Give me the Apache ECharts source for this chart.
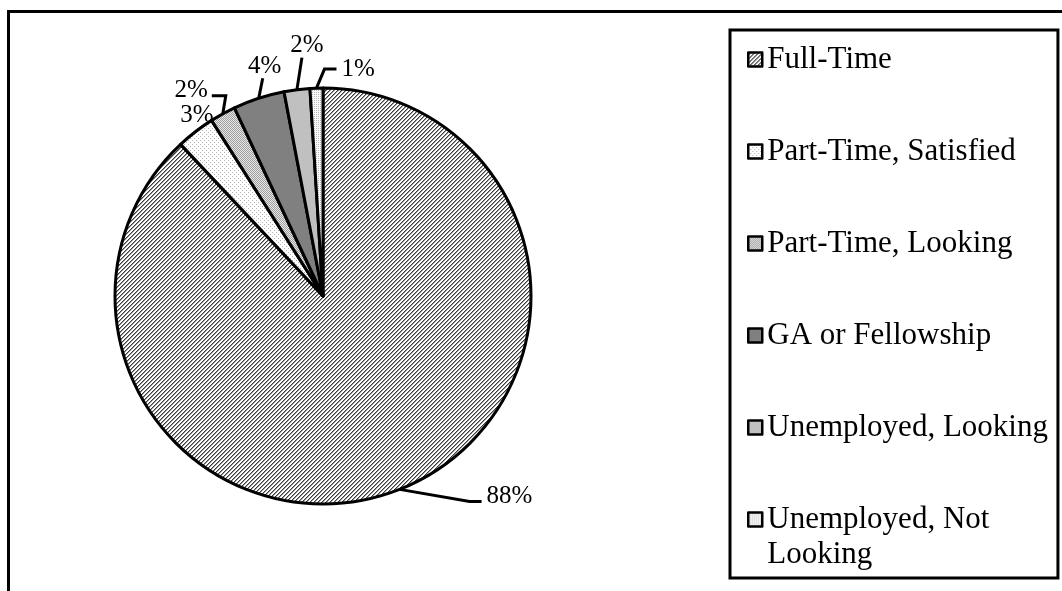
<!DOCTYPE html>
<html>
<head>
<meta charset="utf-8">
<script src="https://cdn.jsdelivr.net/npm/echarts@6/dist/echarts.min.js"></script>
<style>html,body{margin:0;padding:0;background:#fff}#c{width:1062px;height:591px}</style>
</head>
<body>
<div id="c"></div>
<script>
const categories = ['Full-Time', 'Part-Time, Satisfied', 'Part-Time, Looking', 'GA or Fellowship', 'Unemployed, Looking', 'Unemployed, Not Looking'];
const values = [88, 3, 2, 4, 2, 1];
const legendLabels = ['Full-Time', 'Part-Time, Satisfied', 'Part-Time, Looking', 'GA or Fellowship', 'Unemployed, Looking', 'Unemployed, Not\nLooking'];

// pattern helpers
function pattern(size, draw) {
  const c = document.createElement('canvas');
  c.width = size; c.height = size;
  const ctx = c.getContext('2d');
  draw(ctx, size);
  return { image: c, repeat: 'repeat' };
}
const fills = [
  pattern(4, (ctx, s) => { ctx.fillStyle = '#fff'; ctx.fillRect(0,0,s,s);
    for (let x = 0; x < s; x++) for (let y = 0; y < s; y++) {
      if ((x + y) % 4 === 3) { ctx.fillStyle = '#3a3a3a'; ctx.fillRect(x,y,1,1); }
      else if ((x + y) % 4 === 0) { ctx.fillStyle = '#9a9a9a'; ctx.fillRect(x,y,1,1); }
    } }),
  pattern(4, (ctx, s) => { ctx.fillStyle = '#fff'; ctx.fillRect(0,0,s,s);
    ctx.fillStyle = '#b0b0b0'; ctx.fillRect(0,0,1,1); ctx.fillRect(2,2,1,1); }),
  pattern(2, (ctx, s) => { ctx.fillStyle = '#e6e6e6'; ctx.fillRect(0,0,s,s);
    ctx.fillStyle = '#a0a0a0'; ctx.fillRect(0,0,1,1); ctx.fillRect(1,1,1,1); }),
  '#808080',
  '#c0c0c0',
  pattern(2, (ctx, s) => { ctx.fillStyle = '#fafafa'; ctx.fillRect(0,0,s,s);
    ctx.fillStyle = '#b8b8b8'; ctx.fillRect(0,0,1,1); })
];

const CX = 323, CY = 296, R = 208;
// leader line shapes relative to the slice edge point: [dx1, dy1, dx2, labelDx, labelDy, align, showLine]
const leaders = [
  [70, 12, 12, 5, -5, 'left', true],
  [0, 0, 0, 18, -16, 'right', false],
  [3, -18, -14, -4, -5, 'right', true],
  [4, -20, 0, 2, -12, 'center', true],
  [5, -32, 0, 5, -12, 'center', true],
  [8, -19, 12, 5, 0, 'left', true]
];
const total = values.reduce((a, b) => a + b, 0);
function edgePoint(i) {
  let cum = 0;
  for (let k = 0; k < i; k++) cum += values[k];
  const ang = (90 - (cum + values[i] / 2) / total * 360) * Math.PI / 180;
  return [CX + R * Math.cos(ang), CY - R * Math.sin(ang)];
}

const chart = echarts.init(document.getElementById('c'), null, { renderer: 'canvas' });
const squarePath = 'path://M0,0h10v10h-10z';
const tallPath = 'path://M0,0h10v10h-10z M0,35';

chart.setOption({
  animation: false,
  backgroundColor: '#fff',
  graphic: [{
    type: 'rect', silent: true, z: -1,
    shape: { x: 8.5, y: 11.5, width: 1200, height: 800 },
    style: { fill: 'none', stroke: '#000', lineWidth: 3 }
  }],
  legend: {
    orient: 'vertical',
    left: 730, top: 30, height: 600,
    padding: [12, 10, 6, 17],
    borderColor: '#000', borderWidth: 3,
    itemGap: 57,
    itemWidth: 14, itemHeight: 49,
    itemTextGap: 16,
    symbolKeepAspect: true,
    itemStyle: { borderColor: '#000', borderWidth: 2.5 },
    textStyle: { fontFamily: 'Liberation Serif', fontSize: 31, color: '#000', lineHeight: 35 },
    formatter: name => legendLabels[categories.indexOf(name)],
    data: categories.map((c, i) => ({ name: c, icon: i === categories.length - 1 ? tallPath : squarePath }))
  },
  series: [{
    type: 'pie',
    center: [CX, CY],
    radius: R,
    startAngle: 90,
    clockwise: true,
    avoidLabelOverlap: false,
    emphasis: { disabled: true },
    itemStyle: { borderColor: '#000', borderWidth: 3 },
    label: {
      show: true, position: 'outside',
      formatter: p => p.value + '%',
      fontFamily: 'Liberation Serif', fontSize: 25, color: '#000'
    },
    labelLine: { show: true, length: 10, length2: 10, smooth: false, lineStyle: { color: '#000', width: 3 } },
    labelLayout: function (params) {
      const i = params.dataIndex;
      const L = leaders[i];
      const p0 = edgePoint(i);
      const p1 = [p0[0] + L[0], p0[1] + L[1]];
      const p2 = [p1[0] + L[2], p1[1]];
      const out = { x: p2[0] + L[3], y: p2[1] + L[4], align: L[5], verticalAlign: 'middle' };
      if (L[6]) out.labelLinePoints = [p0, p1, p2];
      return out;
    },
    data: categories.map((c, i) => ({
      name: c, value: values[i],
      itemStyle: { color: fills[i] },
      labelLine: { show: leaders[i][6] }
    }))
  }]
});
</script>
</body>
</html>
